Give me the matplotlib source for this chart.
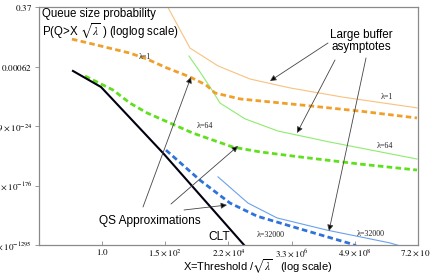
import matplotlib
matplotlib.use("Agg")
import matplotlib.pyplot as plt

# x: ln(X), y: ln(-ln P)  (log / loglog transformed values)
clt_x = [-2.31, -0.09, 4.82, 11.23, 11.70]
clt_y = [2.15, 2.69, 4.91, 8.00, 8.20]

qs1_x = [-2.39, -0.41, 2.20, 3.55, 5.13, 6.95, 8.22, 8.93, 10.91, 15.66, 20.41, 24.92]
qs1_y = [1.08, 1.28, 1.55, 1.75, 2.05, 2.35, 2.62, 2.89, 3.09, 3.29, 3.50, 3.73]

lb1_x = [4.89, 6.95, 9.17, 11.70, 14.87, 19.06, 24.92]
lb1_y = [-0.235, 1.38, 1.98, 2.42, 2.72, 3.03, 3.39]

qs64_x = [-1.36, -0.41, 0.86, 2.20, 3.55, 5.37, 7.19, 10.36, 12.49, 15.66, 20.41, 24.92]
qs64_y = [2.32, 2.52, 2.79, 3.23, 3.56, 3.90, 4.24, 4.71, 4.87, 5.04, 5.28, 5.48]

lb64_x = [6.87, 7.74, 8.69, 9.33, 11.31, 13.92, 18.03, 24.92]
lb64_y = [1.65, 2.18, 2.79, 3.23, 3.76, 4.17, 4.54, 5.11]

qs32k_x = [5.05, 7.74, 10.12, 12.26, 15.11, 19.78, 20.41]
qs32k_y = [4.81, 5.82, 6.59, 7.03, 7.39, 7.97, 8.10]

lb32k_x = [9.17, 11.54, 13.84, 17.80, 22.78, 23.58]
lb32k_y = [5.71, 6.59, 7.09, 7.50, 7.93, 8.03]

xtick_pos = [0, 5, 10, 15, 20, 25]
xtick_labels = [r"$1.0$", r"$1.5\times10^{2}$", r"$2.2\times10^{4}$",
                r"$3.3\times10^{6}$", r"$4.9\times10^{8}$", r"$7.2\times10^{10}$"]
ytick_pos = [0, 2, 4, 6, 8]
ytick_labels = [r"$0.37$", r"$0.00062$", r"$1.9\times10^{-24}$",
                r"$2.2\times10^{-176}$", r"$4\times10^{-1295}$"]

plt.rcParams['mathtext.fontset'] = 'stix'
plt.rcParams['font.family'] = ['Liberation Sans', 'DejaVu Sans']

W, H = 431, 274
fig = plt.figure(figsize=(W / 100, H / 100), dpi=100)
ax = fig.add_axes([39 / W, 1 - 245 / H, (418 - 39) / W, (245 - 7) / H])
ax.set_xlim(-5, 25)
ax.set_ylim(8, 0)

c_or_d = '#f0a02a'
c_or_s = '#f7c27e'
c_gr_d = '#5fe01e'
c_gr_s = '#8eec6e'
c_bl_d = '#2f72d8'
c_bl_s = '#6aa2ea'

ax.plot(lb1_x, lb1_y, color=c_or_s, lw=0.8)
ax.plot(lb64_x, lb64_y, color=c_gr_s, lw=0.8)
ax.plot(lb32k_x, lb32k_y, color=c_bl_s, lw=0.8)
ax.plot(qs1_x, qs1_y, color=c_or_d, lw=2.0, dashes=(2.0, 1.2))
ax.plot(qs64_x, qs64_y, color=c_gr_d, lw=2.0, dashes=(2.0, 1.2))
ax.plot(qs32k_x, qs32k_y, color=c_bl_d, lw=2.0, dashes=(2.0, 1.2))
ax.plot(clt_x, clt_y, color='#000010', lw=1.5)

for s in ax.spines.values():
    s.set_color('#8a8a8a')
    s.set_linewidth(0.9)

ax.set_xticks(xtick_pos)
ax.set_xticklabels(xtick_labels)
ax.set_yticks(ytick_pos)
ax.set_yticklabels(ytick_labels)
ax.tick_params(axis='x', direction='in', length=3, width=0.6, color='#8a8a8a',
               labelsize=6.5, pad=1.5)
ax.tick_params(axis='y', direction='out', length=3, width=0.6, color='#8a8a8a',
               labelsize=6.5, pad=2)


def P(px, py):
    return (px / W, 1 - py / H)


ff = 'figure fraction'
fig.text(*P(42, 8), "Queue size probability\nP(Q>X $\\sqrt{\\lambda}$ ) (loglog scale)",
         fontsize=8.3, va='top', ha='left', linespacing=1.05)
fig.text(*P(361, 41), "Large buffer\nasymptotes", fontsize=8.4, va='center',
         ha='center', linespacing=1.05)
fig.text(*P(150, 221), "QS Approximations", fontsize=8.6, va='center', ha='center')
fig.text(*P(219, 237), "CLT", fontsize=8.6, va='center', ha='center')
fig.text(*P(183, 267), "X=Threshold /$\\sqrt{\\lambda}$   (log scale)", fontsize=8,
         va='center', ha='left')

lam_kw = dict(fontsize=5.8, family='Liberation Serif', va='center', ha='center', color='#222222')
fig.text(*P(145, 57), "λ=1", **lam_kw)
fig.text(*P(387, 97), "λ=1", **lam_kw)
fig.text(*P(205, 126), "λ=64", **lam_kw)
fig.text(*P(385, 146), "λ=64", **lam_kw)
fig.text(*P(271, 235), "λ=32000", **lam_kw)
fig.text(*P(371, 234), "λ=32000", **lam_kw)

arrows = [((328, 43), (270, 81)), ((335, 60), (297, 133)), ((366, 58), (329, 231)),
          ((143, 207), (191, 77)), ((171, 204), (238, 146)), ((184, 210), (227, 205))]
for (sx, sy), (ex, ey) in arrows:
    ax.annotate("", xy=P(ex, ey), xycoords=ff, xytext=P(sx, sy), textcoords=ff,
                arrowprops=dict(arrowstyle='-|>', lw=0.6, ec='#444444', fc='black',
                                mutation_scale=9, shrinkA=0, shrinkB=0),
                annotation_clip=False)

fig.savefig("out.png", dpi=100)
